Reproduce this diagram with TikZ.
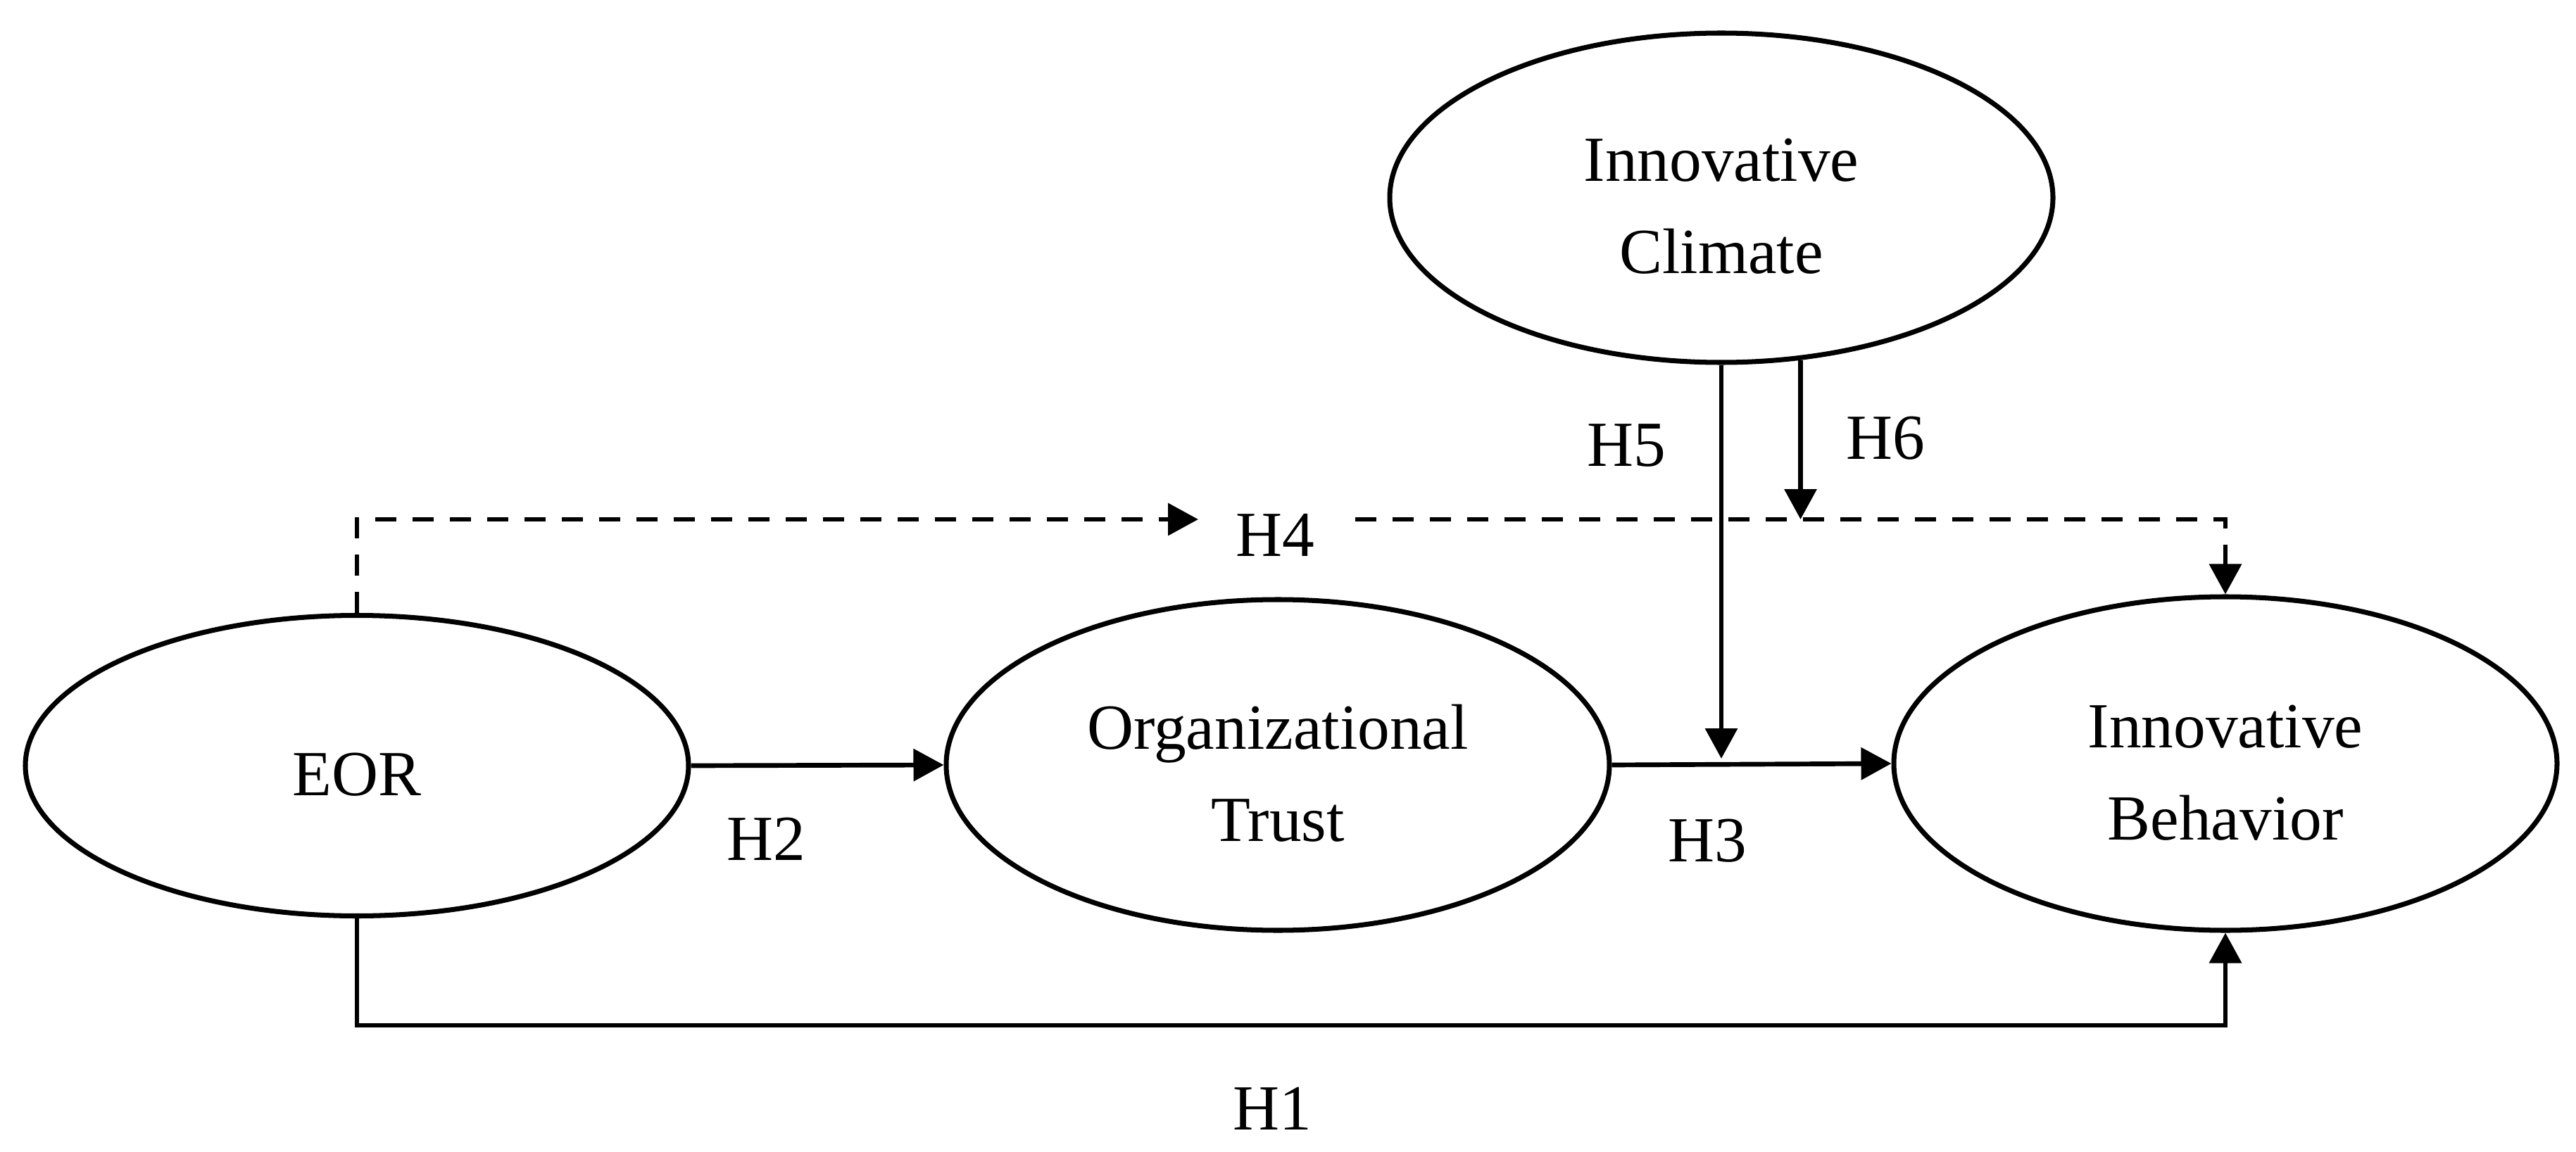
\documentclass[tikz,border=0pt]{standalone}
\usepackage{fontspec}
\setmainfont{Liberation Serif}
\usetikzlibrary{shapes.geometric,arrows.meta}

\begin{document}
\begin{tikzpicture}[
  font=\fontsize{26}{37}\selectfont,
  every node/.style={inner sep=0pt},
  var/.style={draw,ellipse,line width=2pt,minimum width=9.42cm,minimum height=4.7cm,
    align=center,text height=2.16cm,text depth=0pt},
  arr/.style={line width=1.9pt,-{Triangle[length=0.43cm,width=0.45cm]}},
  dsh/.style={arr,dash pattern=on 0.3cm off 0.23cm},
]
\useasboundingbox (0,0) rectangle (36.59,-16.37);
\node[var,minimum height=4.27cm,text height=0.84cm] (eor) at (5.07,-10.88) {EOR};
\node[var] (trust) at (18.15,-10.87) {Organizational\\Trust};
\node[var,minimum height=4.74cm] (behav) at (31.61,-10.85) {Innovative\\Behavior};
\node[var,minimum height=4.68cm,text height=2.14cm] (climate) at (24.45,-2.81) {Innovative\\Climate};
\coordinate (h4a) at (17.02,-7.38);
\coordinate (h4b) at (19.25,-7.38);
\coordinate (h1y) at (0,-14.57);
\draw[dsh] (eor.north) |- (h4a);
\draw[dsh] (h4b) -| (behav.north);
\draw[arr] (eor.east) -- (trust.west);
\draw[arr] (trust.east) -- (behav.west);
\draw[arr] (eor.south) -- (eor.south |- h1y) -| (behav.south);
\draw[arr] (climate.south) -- ([yshift=0.09cm]climate.south |- trust.east);
\draw[arr] (climate.-64.6) -- (climate.-64.6 |- h4a);
\node (h1) at (18.07,-15.75) {H1};
\node (h2) at (10.88,-11.92) {H2};
\node (h3) at (24.25,-11.95) {H3};
\node (h4) at (18.11,-7.60) {H4};
\node (h5) at (23.10,-6.33) {H5};
\node (h6) at (26.78,-6.23) {H6};
\end{tikzpicture}
\end{document}
